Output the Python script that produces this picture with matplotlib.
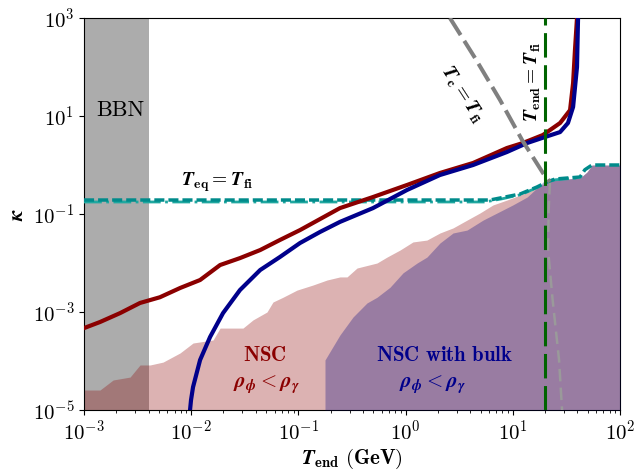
import numpy as np
import matplotlib
matplotlib.use("Agg")
import matplotlib.pyplot as plt

plt.rcParams["font.family"] = "serif"
plt.rcParams["font.serif"] = ["cmr10"]
plt.rcParams["mathtext.fontset"] = "cm"
plt.rcParams["axes.formatter.use_mathtext"] = True

# BBN excluded band
bbn_lo, bbn_hi = 1e-3, 4.0e-3

# kappa boundary curves
red_x = [1e-3, 1.41e-3, 2.17e-3, 3.33e-3, 5.1e-3, 7.9e-3, 1.21e-2, 1.86e-2, 2.85e-2, 4.4e-2,
         6.7e-2, 0.1035, 0.244, 0.496, 1.03, 2.09, 4.26, 8.8, 12.4, 19.1, 27.6, 34.2, 36.5, 38.0, 39.7]
red_y = [4.7e-4, 6.25e-4, 9.5e-4, 1.53e-3, 2.0e-3, 3.1e-3, 4.5e-3, 9.1e-3, 1.26e-2, 1.84e-2,
         2.94e-2, 4.7e-2, 0.132, 0.222, 0.391, 0.687, 1.10, 2.22, 2.81, 4.1, 7.2, 13.2, 47, 222, 1000]

blue_x = [9.75e-3, 9.96e-3, 1.04e-2, 1.21e-2, 1.50e-2, 1.98e-2, 2.85e-2, 4.4e-2, 6.7e-2, 0.1035,
          0.159, 0.244, 0.496, 1.03, 2.09, 4.26, 8.8, 13.6, 20.0, 27.6, 32.7, 36.5, 39.7, 40.6]
blue_y = [1e-5, 1.6e-5, 2.94e-5, 1.05e-4, 3.1e-4, 9.5e-4, 2.81e-3, 7.2e-3, 1.32e-2, 2.56e-2,
          4.3e-2, 6.9e-2, 0.132, 0.309, 0.625, 1.0, 1.84, 2.81, 3.73, 4.7, 7.2, 15.3, 100, 1000]

# NSC region (rho_phi < rho_gamma)
nsc_x = [1e-3, 1.41e-3, 1.87e-3, 2.69e-3, 3.33e-3, 4.13e-3, 5.46e-3, 7.87e-3, 1.04e-2, 1.60e-2,
         1.86e-2, 3.04e-2, 3.77e-2, 5.09e-2, 5.79e-2, 7.18e-2, 9.7e-2, 0.137, 0.185, 0.244, 0.284,
         0.352, 0.541, 0.670, 0.887, 1.17, 1.58, 2.09, 2.77, 3.74, 4.94, 6.53, 8.83, 11.7, 15.4,
         20.8, 23.7, 42.4, 49.2, 54.8, 100]
nsc_y = [2.56e-5, 2.56e-5, 4.1e-5, 4.7e-5, 8.3e-5, 8.3e-5, 9.5e-5, 1.46e-4, 2.33e-4, 2.69e-4,
         4.7e-4, 4.7e-4, 6.9e-4, 1e-3, 1.6e-3, 2.0e-3, 2.8e-3, 3.56e-3, 4.5e-3, 5.2e-3, 5.2e-3,
         7.9e-3, 1e-2, 1.32e-2, 1.84e-2, 2.69e-2, 2.94e-2, 4.1e-2, 5.2e-2, 7.5e-2, 0.105, 0.153,
         0.193, 0.244, 0.309, 0.45, 0.494, 0.543, 0.72, 1.0, 1.0]

# NSC with bulk region
bulk_x = [0.177, 0.177, 0.244, 0.323, 0.436, 0.541, 0.715, 0.946, 1.28, 1.58, 2.09, 2.77, 3.74,
          5.27, 7.13, 10.0, 13.6, 16.8, 20.0, 23.7, 42.4, 49.2, 54.8, 100]
bulk_y = [1e-5, 1.05e-4, 3.4e-4, 7.9e-4, 1.53e-3, 2.0e-3, 3.2e-3, 6.3e-3, 1e-2, 1.32e-2, 2.56e-2,
          4.1e-2, 4.7e-2, 7.5e-2, 0.105, 0.153, 0.222, 0.34, 0.494, 0.494, 0.543, 0.72, 1.0, 1.0]

# T_eq = T_fi
teq_x = [1e-3, 6.12, 7.60, 11.7, 16.8, 20.8, 24.8, 42.4, 47.0, 54.8, 100]
teq_y = [0.193, 0.193, 0.212, 0.256, 0.356, 0.45, 0.518, 0.569, 0.80, 1.0, 1.0]
teq2_x = [1e-3, 5.5, 8.0, 12.0, 17.0, 21.0, 25.0, 42.4]
teq2_y = [0.176, 0.176, 0.205, 0.25, 0.35, 0.45, 0.50, 0.55]

# T_c = T_fi
tc_x = [2.59, 4.44, 7.60, 12.2, 19.1, 22.2]
tc_y = [1000, 153, 21.2, 3.24, 0.687, 0.45]
tc_low_x = [22.2, 21.6, 21.3, 23.5, 27.0, 28.8]
tc_low_y = [0.45, 0.12, 1.9e-2, 1.8e-3, 1.05e-4, 1e-5]

# T_end = T_fi
t_fi = 20.0

fig = plt.figure(figsize=(6.35, 4.75), dpi=100)
ax = fig.add_axes([0.1323, 0.1368, 0.8441, 0.8253])

ax.axvspan(bbn_lo, bbn_hi, color="gray", alpha=0.65, lw=0, zorder=1)
ax.fill_between(nsc_x, 1e-5, nsc_y, color="darkred", alpha=0.3, lw=0, zorder=2)
ax.fill_between(bulk_x, 1e-5, bulk_y, color="navy", alpha=0.3, lw=0, zorder=3)

ax.plot(tc_low_x, tc_low_y, color="#9a9a9a", lw=1.8, dashes=(5, 2.5), zorder=4)
ax.plot(teq2_x, teq2_y, color="#20a8a0", lw=2.0, ls="-.", zorder=5)
ax.plot(teq_x, teq_y, color="darkcyan", lw=2.5, dashes=(2.9, 1.15), zorder=5)
ax.plot(red_x, red_y, color="darkred", lw=3, zorder=6)
ax.plot(blue_x, blue_y, color="darkblue", lw=3, zorder=7)
ax.plot(tc_x, tc_y, color="gray", lw=2.9, dashes=(5, 1.7), zorder=8)
ax.axvline(t_fi, color="darkgreen", lw=2.2, dashes=(8, 2.5), zorder=9)

ax.set_xscale("log")
ax.set_yscale("log")
ax.set_xlim(1e-3, 1e2)
ax.set_ylim(1e-5, 1e3)
ax.set_yticks([1e-5, 1e-3, 1e-1, 1e1, 1e3])
ax.yaxis.set_minor_locator(matplotlib.ticker.NullLocator())
ax.tick_params(labelsize=15)

ax.set_xlabel(r"$\mathbfit{T}_{\mathbf{end}}\ \mathbf{(GeV)}$", fontsize=15, labelpad=2)
ax.set_ylabel(r"$\mathbfit{\kappa}$", fontsize=15)

ax.text(2.17e-3, 13.2, "BBN", fontsize=16, ha="center", va="center", zorder=10)
ax.text(1.74e-2, 0.45, r"$\mathbfit{T}_{\mathbf{eq}} = \mathbfit{T}_{\mathbf{fi}}$",
        fontsize=14, ha="center", va="center", zorder=10)
ax.text(3.36, 26.9, r"$\mathbfit{T}_{\mathbf{c}} = \mathbfit{T}_{\mathbf{fi}}$",
        fontsize=14, ha="center", va="center", rotation=-57, zorder=10)
ax.text(15.4, 49.4, r"$\mathbfit{T}_{\mathbf{end}} = \mathbfit{T}_{\mathbf{fi}}$",
        fontsize=14, ha="center", va="center", rotation=90, zorder=10)
ax.text(4.87e-2, 1.32e-4, r"$\mathbf{NSC}$", fontsize=15, color="darkred",
        ha="center", va="center", zorder=10)
ax.text(5.1e-2, 3.24e-5, r"$\mathbfit{\rho}_{\mathbfit{\phi}} < \mathbfit{\rho}_{\mathbfit{\gamma}}$",
        fontsize=15, color="darkred", ha="center", va="center", zorder=10)
ax.text(2.33, 1.32e-4, r"$\mathbf{NSC\ with\ bulk}$", fontsize=15, color="darkblue",
        ha="center", va="center", zorder=10)
ax.text(1.80, 3.24e-5, r"$\mathbfit{\rho}_{\mathbfit{\phi}} < \mathbfit{\rho}_{\mathbfit{\gamma}}$",
        fontsize=15, color="darkblue", ha="center", va="center", zorder=10)

fig.savefig("out.png", dpi=100)
